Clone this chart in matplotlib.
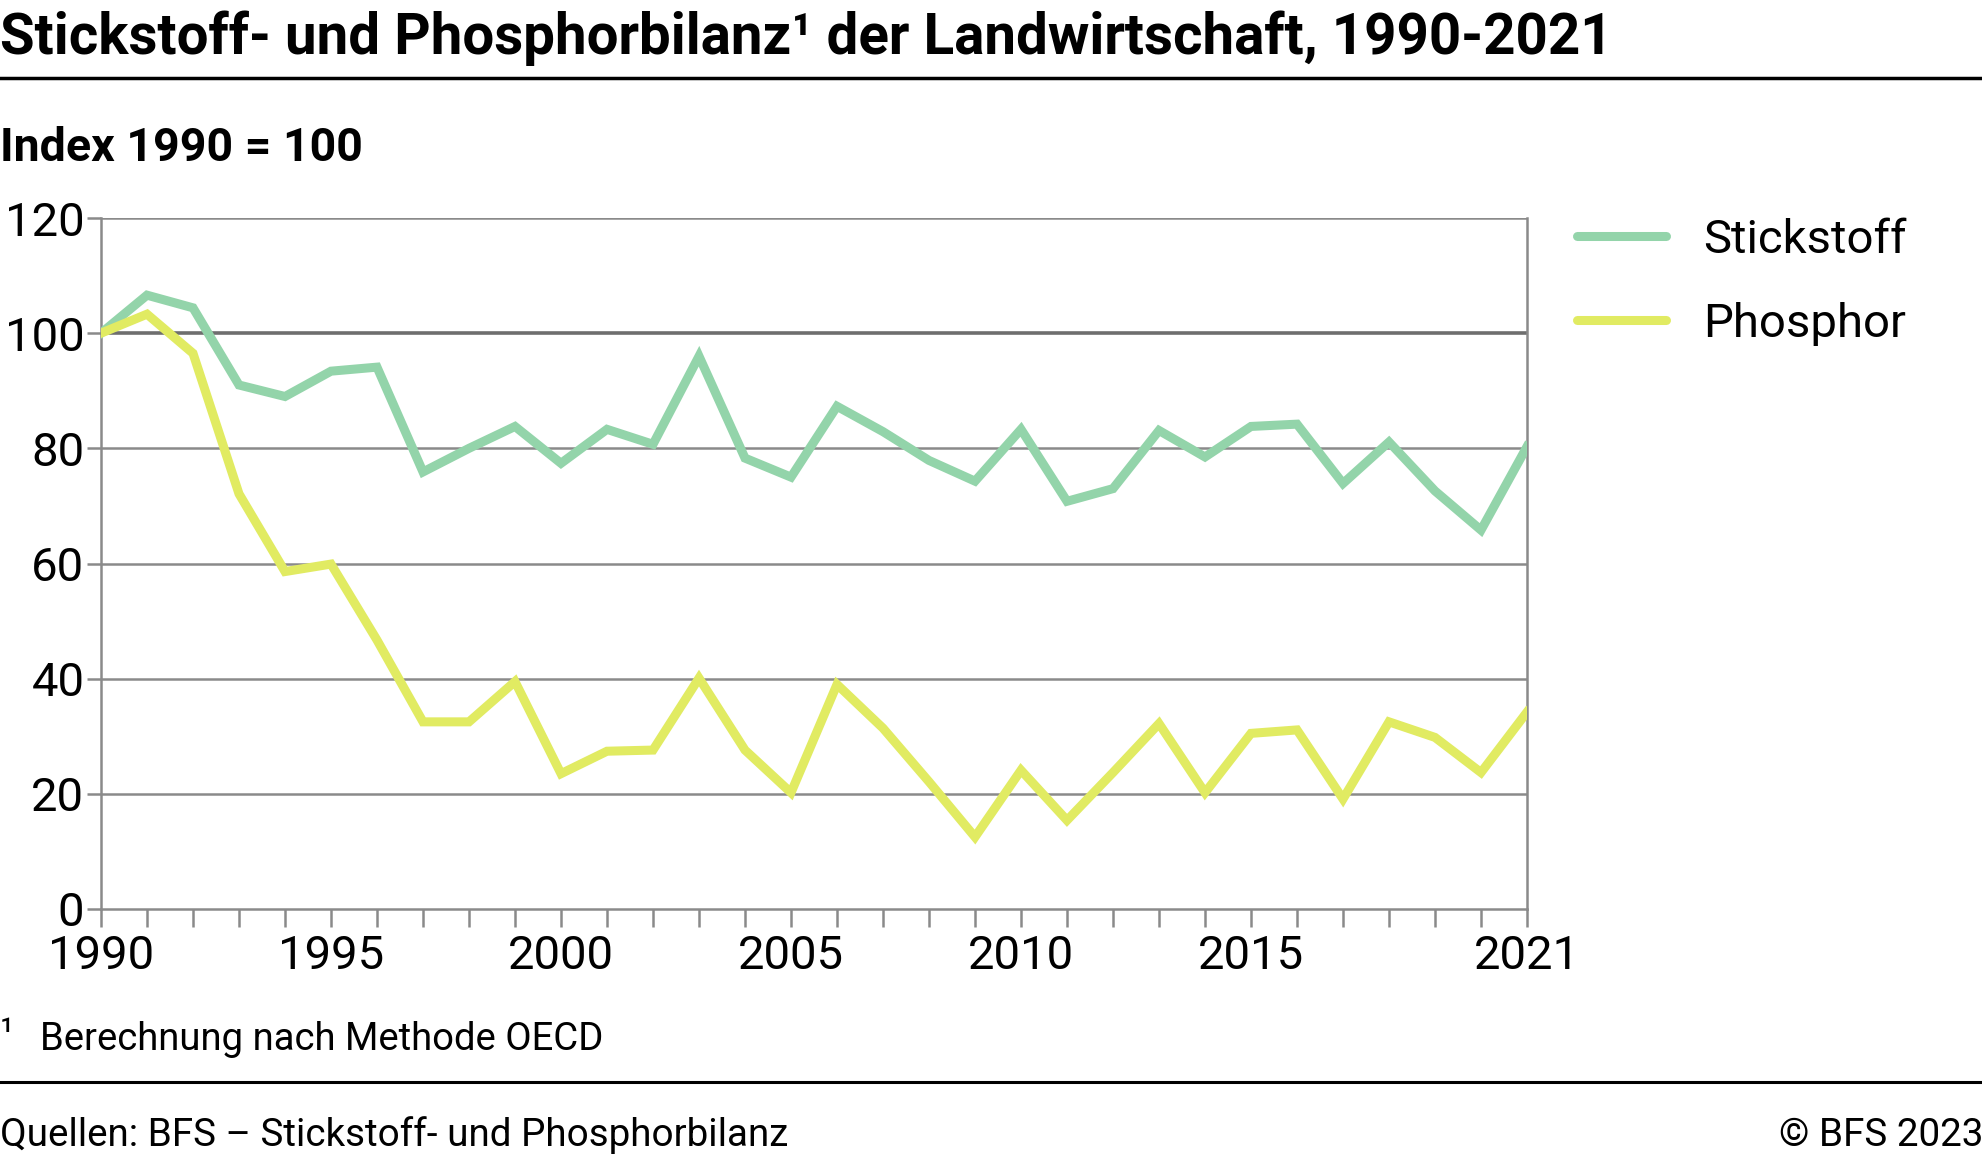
import matplotlib
matplotlib.use('Agg')
import matplotlib.pyplot as plt
import numpy as np

plt.rcParams['font.family'] = ['Roboto', 'DejaVu Sans']

years = list(range(1990, 2022))
stickstoff = [100, 106.6, 104.4, 91.0, 89.0, 93.4, 94.1, 75.9, 80.0, 83.8,
              77.4, 83.3, 80.7, 96.0, 78.3, 75.0, 87.3, 82.9, 77.9, 74.3,
              83.3, 70.8, 73.0, 83.1, 78.5, 83.8, 84.2, 73.9, 81.1, 72.6,
              65.8, 80.3]
phosphor = [100, 103.3, 96.5, 72.1, 58.6, 59.9, 46.7, 32.5, 32.5, 39.5,
            23.5, 27.4, 27.6, 40.1, 27.6, 20.2, 39.0, 31.4, 22.1, 12.5,
            24.1, 15.4, 23.7, 32.2, 20.2, 30.5, 31.1, 19.1, 32.5, 29.8,
            23.7, 34.2]
series_names = ['Stickstoff', 'Phosphor']
series_colors = ['#93d4aa', '#e1eb62']
y_ticks = [0, 20, 40, 60, 80, 100, 120]
x_labels = [1990, 1995, 2000, 2005, 2010, 2015, 2021]

W, H = 1983, 1161
fig = plt.figure(figsize=(W / 100, H / 100), dpi=100)
ax = fig.add_axes([101 / W, 1 - 909 / H, (1527 - 101) / W, (909 - 218) / H])

grey = '#8a8a8a'
for v in y_ticks[1:]:
    if v == 100:
        ax.axhline(v, color='#6e6e6e', lw=2.6, zorder=1)
    else:
        ax.axhline(v, color=grey, lw=1.8, zorder=1)

for vals, name, col in zip([stickstoff, phosphor], series_names, series_colors):
    ax.plot(years, vals, color=col, lw=6.5, label=name, zorder=3,
            solid_joinstyle='miter')

ax.set_xlim(1990, 2021)
ax.set_ylim(0, 120)
ax.set_yticks(y_ticks)
ax.set_xticks(years)
ax.set_xticklabels([str(y) if y in x_labels else '' for y in years])
for s in ['left', 'bottom', 'right']:
    ax.spines[s].set_color(grey)
    ax.spines[s].set_linewidth(1.8)
ax.spines['top'].set_visible(False)
ax.tick_params(axis='x', length=13, width=1.8, color=grey, labelsize=34, pad=5)
ax.tick_params(axis='y', length=10, width=1.8, color=grey, labelsize=34, pad=2)

# legend, placed by hand
leg_y = [236, 320]
for name, col, yy in zip(series_names, series_colors, leg_y):
    fig.add_artist(plt.Line2D([1577 / W, 1666 / W], [1 - yy / H, 1 - yy / H],
                              color=col, lw=6.5, solid_capstyle='round'))
    fig.text(1703 / W, 1 - (yy + 4) / H, name, fontsize=34, va='center', ha='left')

fig.text(0, 1 - 38 / H, 'Stickstoff- und Phosphorbilanz\u00b9 der Landwirtschaft, 1990-2021',
         fontsize=40.7, fontweight='bold', va='center', ha='left')
fig.add_artist(plt.Line2D([0, 1], [1 - 78 / H, 1 - 78 / H], color='black', lw=2.5))
fig.text(0, 1 - 148 / H, 'Index 1990 = 100', fontsize=33.5, fontweight='bold',
         va='center', ha='left')
fig.text(0, 1 - 1034 / H, '\u00b9', fontsize=27.5, va='center', ha='left')
fig.text(40 / W, 1 - 1040 / H, 'Berechnung nach Methode OECD', fontsize=27.5,
         va='center', ha='left')
fig.add_artist(plt.Line2D([0, 1], [1 - 1082 / H, 1 - 1082 / H], color='black', lw=2.2))
fig.text(0, 1 - 1135 / H, 'Quellen: BFS \u2013 Stickstoff- und Phosphorbilanz',
         fontsize=27.8, va='center', ha='left')
fig.text(1, 1 - 1135 / H, '\u00a9 BFS 2023', fontsize=27.8, va='center', ha='right')

fig.savefig('out.png', dpi=100)
